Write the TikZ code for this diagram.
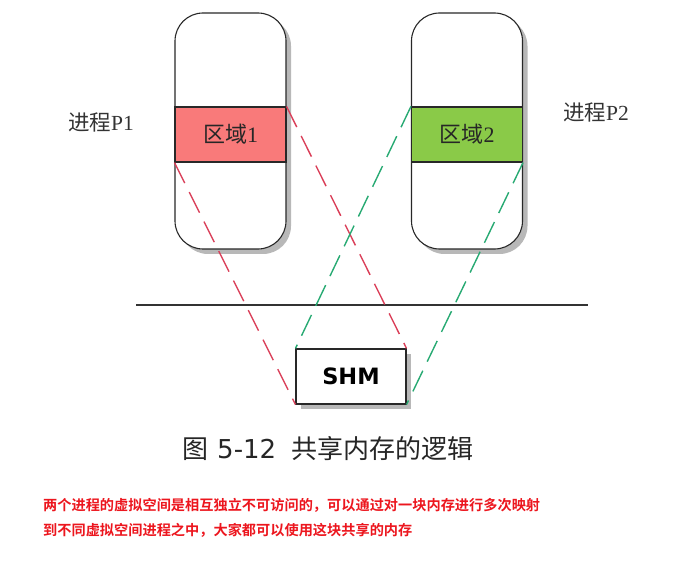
\documentclass[tikz,border=0pt]{standalone}
\usepackage{fontspec}
\newfontfamily\cjk{Noto Sans CJK SC}
\newfontfamily\cjkb{Noto Sans CJK SC Bold}
\newfontfamily\dejavu{DejaVu Sans}
\setmainfont{Liberation Serif}
\usetikzlibrary{shadows}
\definecolor{regred}{RGB}{249,122,122}
\definecolor{reggreen}{RGB}{138,202,72}
\definecolor{dashred}{RGB}{218,62,88}
\definecolor{dashgreen}{RGB}{40,170,115}
\definecolor{notered}{RGB}{236,22,30}
\definecolor{boxline}{RGB}{40,40,40}
\tikzset{
  myshadow/.style={drop shadow={shadow xshift=5pt, shadow yshift=-5pt, fill=black!28, opacity=1}},
  proc/.style={draw=boxline, line width=1.1pt, fill=white, rounded corners=28pt,
    minimum width=111pt, minimum height=236pt, inner sep=0pt, myshadow},
  region/.style={draw=boxline, line width=1.1pt, minimum width=111pt, minimum height=55pt,
    inner sep=0pt, font=\fontsize{22}{24}\selectfont, text=black!85},
  shmbox/.style={draw=boxline, line width=1.1pt, fill=white, minimum width=110pt,
    minimum height=55pt, inner sep=0pt, myshadow, font=\dejavu\bfseries\fontsize{22.5}{26}\selectfont},
  link/.style={line width=1.4pt, dash pattern=on 23pt off 10pt},
  label/.style={font=\fontsize{21.5}{24}\selectfont, text=black!80},
  note/.style={anchor=west, inner sep=0pt, text=notered, font=\cjkb\fontsize{14.2}{16}\selectfont}
}
\begin{document}
\begin{tikzpicture}[x=1pt, y=-1pt]
\useasboundingbox (0,0) rectangle (697,567);
% process boxes
\node[proc] (p1) at (230.5,131) {};
\node[proc] (p2) at (467,131) {};
\node[region, fill=regred] (r1) at (230.5,134.5) {{\cjk 区域}1};
\node[region, fill=reggreen] (r2) at (467,134.5) {{\cjk 区域}2};
% labels
\node[label] (l1) at (101,122) {{\cjk 进程}P1};
\node[label] (l2) at (596,112) {{\cjk 进程}P2};
% divider
\coordinate (dl) at (136,305);
\coordinate (dr) at (588,305);
\draw[line width=1.1pt, black!80] (dl) -- (dr);
% shared memory
\node[shmbox] (shm) at (351,376.5) {SHM};
% mappings
\draw[link, dashred] (r1.south west) -- (shm.south west);
\draw[link, dashred] (r1.north east) -- (shm.north east);
\draw[link, dashgreen] (r2.north west) -- (shm.north west);
\draw[link, dashgreen] (r2.south east) -- (shm.south east);
% caption
\node[font=\fontsize{26}{30}\selectfont, text=black!85] (cap) at (328,449)
  {{\cjk 图}\hspace{0.35em}{\dejavu 5-12}\hspace{0.6em}{\cjk 共享内存的逻辑}};
% note
\node[note] (n1) at (43,505) {两个进程的虚拟空间是相互独立不可访问的，可以通过对一块内存进行多次映射};
\node[note] (n2) at (43,530) {到不同虚拟空间进程之中，大家都可以使用这块共享的内存};
\end{tikzpicture}
\end{document}
